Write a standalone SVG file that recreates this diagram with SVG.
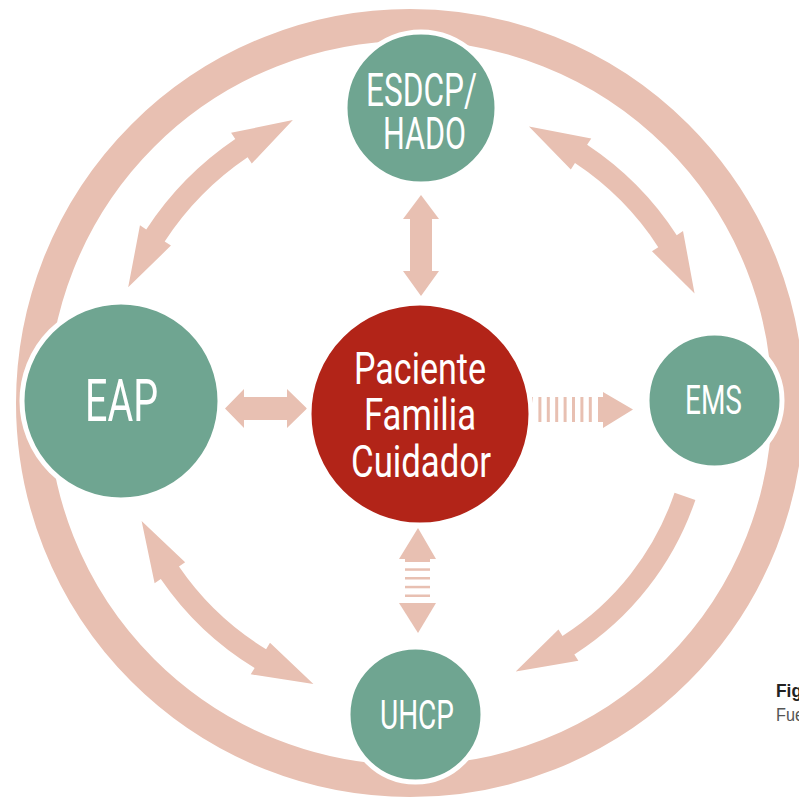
<svg xmlns="http://www.w3.org/2000/svg" width="799" height="801" viewBox="0 0 799 801">
<style>
.arr{fill:#e8c0b2}
.node-g{fill:#6fa591;stroke:#ffffff;stroke-width:5}
.node-r{fill:#b22418;stroke:#ffffff;stroke-width:5}
.lbl{font-family:Roboto,"Liberation Sans",sans-serif;font-weight:400;fill:#ffffff}
</style>
<rect width="799" height="801" fill="#ffffff"/>
<circle id="ring" cx="410" cy="403" r="378" fill="none" stroke="#e8c0b2" stroke-width="32"/>
<g id="connectors">
  <path class="arr" transform="translate(415 405) rotate(-135.45)" d="M314.67,-63.45 A321,321 0 0 1 314.67,63.45 L322.02,64.93 L286.92,117.38 L285.75,57.62 L293.10,59.10 A299,299 0 0 0 293.10,-59.10 L285.75,-57.62 L286.92,-117.38 L322.02,-64.93 Z"/>
  <path class="arr" transform="translate(415 405) rotate(-44.75)" d="M305.44,-63.64 A312,312 0 0 1 305.44,63.64 L312.78,65.17 L277.07,117.61 L276.56,57.62 L283.90,59.15 A290,290 0 0 0 283.90,-59.15 L276.56,-57.62 L277.07,-117.61 L312.78,-65.17 Z"/>
  <path class="arr" transform="translate(415 405) rotate(133.5)" d="M301.13,-64.67 A308,308 0 0 1 301.13,64.67 L308.47,66.25 L272.37,118.43 L272.29,58.48 L279.62,60.05 A286,286 0 0 0 279.62,-60.05 L272.29,-58.48 L272.37,-118.43 L308.47,-66.25 Z"/>
  <path class="arr" d="M695.37,499.91 A296,296 0 0 1 574.33,654.46 L578.37,660.78 L515.74,671.60 L558.45,629.60 L562.49,635.92 A274,274 0 0 0 674.54,492.86 Z"/>
  <polygon class="arr" points="421,195 439,219 432,219 432,271 439,271 421,296 403,271 410,271 410,219 403,219"/>
  <polygon class="arr" points="225,408.5 244,389 244,397 287,397 287,389 307,408.5 287,428 287,420 244,420 244,428"/>
  <g class="arr">
    <rect x="530" y="397" width="3" height="25"/>
    <rect x="538.4" y="397" width="3" height="25"/>
    <rect x="546.8" y="397" width="3" height="25"/>
    <rect x="555.2" y="397" width="3" height="25"/>
    <rect x="563.6" y="397" width="3" height="25"/>
    <rect x="572" y="397" width="3" height="25"/>
    <rect x="580.4" y="397" width="3" height="25"/>
    <rect x="588.8" y="397" width="3" height="25"/>
    <polygon points="598,397 603,397 603,392 633,409.5 603,428 603,422 598,422"/>
  </g>
  <g class="arr">
    <polygon points="418,528 436,559 430,559 430,562 405,562 405,559 399,559"/>
    <rect x="405" y="568.3" width="25" height="2.5"/>
    <rect x="405" y="577" width="25" height="2.5"/>
    <rect x="405" y="585.8" width="25" height="2.5"/>
    <rect x="405" y="594.5" width="25" height="2.5"/>
    <polygon points="399,603 436,603 418,633"/>
  </g>
</g>
<g id="node-esdcp">
  <circle class="node-g" cx="421" cy="108" r="76"/>
  <text class="lbl" x="366" y="106" font-size="47" textLength="111" lengthAdjust="spacingAndGlyphs">ESDCP/</text>
  <text class="lbl" x="383" y="149" font-size="45" textLength="83" lengthAdjust="spacingAndGlyphs">HADO</text>
</g>
<g id="node-eap">
  <circle class="node-g" cx="121" cy="401" r="99"/>
  <text class="lbl" x="85" y="421" font-size="60" textLength="73" lengthAdjust="spacingAndGlyphs">EAP</text>
</g>
<g id="node-paciente">
  <circle class="node-r" cx="420" cy="414" r="111"/>
  <text class="lbl" x="354" y="384" font-size="45" textLength="132" lengthAdjust="spacingAndGlyphs">Paciente</text>
  <text class="lbl" x="364" y="430" font-size="45" textLength="112" lengthAdjust="spacingAndGlyphs">Familia</text>
  <text class="lbl" x="351" y="477" font-size="45" textLength="140" lengthAdjust="spacingAndGlyphs">Cuidador</text>
</g>
<g id="node-ems">
  <circle class="node-g" cx="714.5" cy="400.5" r="67.5"/>
  <text class="lbl" x="685" y="414" font-size="40" textLength="57" lengthAdjust="spacingAndGlyphs">EMS</text>
</g>
<g id="node-uhcp">
  <circle class="node-g" cx="415.5" cy="714.5" r="67.5"/>
  <text class="lbl" x="380" y="729" font-size="41" textLength="74" lengthAdjust="spacingAndGlyphs">UHCP</text>
</g>
<text x="776" y="697" font-family="'Liberation Sans',sans-serif" font-weight="bold" font-size="18" fill="#222222" textLength="26" lengthAdjust="spacingAndGlyphs">Fig</text>
<text x="776" y="721" font-family="'Liberation Sans',sans-serif" font-size="18" fill="#555555" textLength="28" lengthAdjust="spacingAndGlyphs">Fue</text>
</svg>
